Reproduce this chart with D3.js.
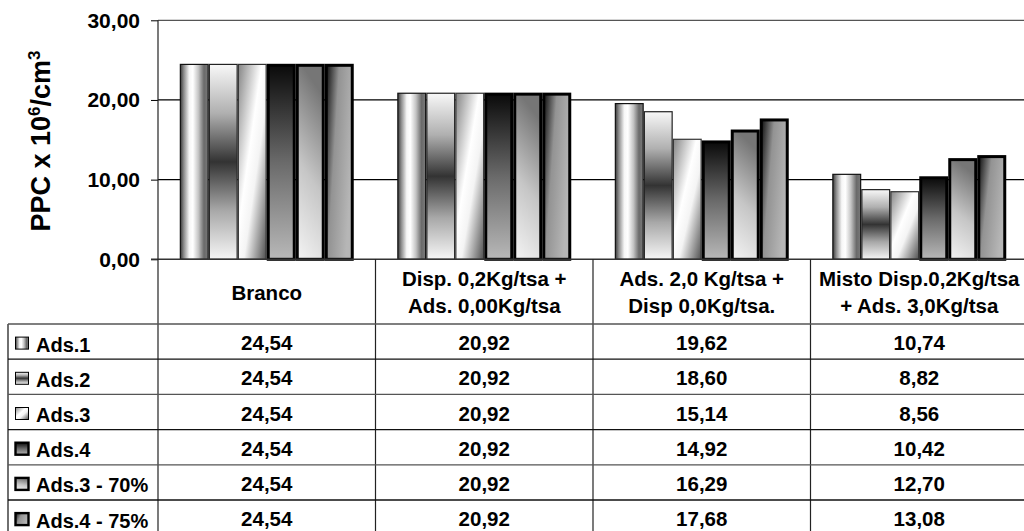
<!DOCTYPE html>
<html><head><meta charset="utf-8">
<script src="https://cdn.jsdelivr.net/npm/d3@7"></script>
<style>
html,body{margin:0;padding:0;background:#fff;overflow:hidden}
text{font-family:Arial,"Liberation Sans",sans-serif;font-weight:bold;fill:#000}
</style></head>
<body>
<svg id="chart" width="1024" height="531"></svg>
<script>
// ---- data ----
const categories = [["Branco"], ["Disp. 0,2Kg/tsa +", "Ads. 0,00Kg/tsa"], ["Ads. 2,0 Kg/tsa +", "Disp 0,0Kg/tsa."], ["Misto Disp.0,2Kg/tsa", "+ Ads. 3,0Kg/tsa"]];
const seriesNames = ["Ads.1", "Ads.2", "Ads.3", "Ads.4", "Ads.3 - 70%", "Ads.4 - 75%"];
const ads1 = [24.54, 20.92, 19.62, 10.74];
const ads2 = [24.54, 20.92, 18.60, 8.82];
const ads3 = [24.54, 20.92, 15.14, 8.56];
const ads4 = [24.54, 20.92, 14.92, 10.42];
const ads3_70 = [24.54, 20.92, 16.29, 12.70];
const ads4_75 = [24.54, 20.92, 17.68, 13.08];
const yTicks = [0, 10, 20, 30];
const yTitle = "PPC x 10";

const seriesValues = [ads1, ads2, ads3, ads4, ads3_70, ads4_75];

// ---- layout ----
const svg = d3.select("#chart");
const W = 1024, H = 531;
const plotLeft = 158, plotRight = 1028, plotTop = 20.3, plotBottom = 259.3;
const tableLeft = 8, headerBottom = 324, rowH = 35.2;

const locale = d3.formatLocale({decimal: ",", thousands: ".", grouping: [3], currency: ["", ""]});
const fmt = locale.format(".2f");

const x0 = d3.scaleBand().domain(d3.range(categories.length)).range([plotLeft, plotRight]).padding(0);
const bw = x0.bandwidth();
const x1 = d3.scaleBand().domain(d3.range(seriesNames.length)).range([bw * 0.1, bw * 0.9]).padding(0);
const y = d3.scaleLinear().domain([0, 30]).range([plotBottom, plotTop]);
const rowY = d3.scaleBand().domain(d3.range(seriesNames.length)).range([headerBottom, headerBottom + rowH * seriesNames.length]);

// ---- gradients ----
const defs = svg.append("defs");
function grad(id, x1_, y1_, x2_, y2_, stops) {
  const g = defs.append("linearGradient").attr("id", id)
    .attr("x1", x1_).attr("y1", y1_).attr("x2", x2_).attr("y2", y2_);
  stops.forEach(s => g.append("stop").attr("offset", s[0]).attr("stop-color", s[1]));
}
grad("g0", 0, 0, 1, 0, [[0, "#3a3a3a"], [0.12, "#8a8a8a"], [0.32, "#f6f6f6"], [0.45, "#ffffff"], [0.65, "#c4c4c4"], [0.85, "#6a6a6a"], [1, "#7a7a7a"]]);
grad("g1", 0, 0, 0, 1, [[0, "#f8f8f8"], [0.25, "#b0b0b0"], [0.5, "#333333"], [0.75, "#a8a8a8"], [1, "#f6f6f6"]]);
grad("g2", 0, 0, 1, 1, [[0, "#858585"], [0.42, "#ffffff"], [0.6, "#f4f4f4"], [1, "#505050"]]);
grad("g3", 0, 0, 0, 1, [[0, "#0a0a0a"], [0.5, "#6a6a6a"], [1, "#b8b8b8"]]);
grad("g4", 0.2, 0, 0, 1, [[0, "#767676"], [0.5, "#c6c6c6"], [1, "#f4f4f4"]]);
grad("g5", 0, 0, 1, 0.45, [[0, "#0e0e0e"], [0.42, "#939393"], [1, "#b6b6b6"]]);
const strokeW = [1.2, 1.2, 1.2, 3, 3, 3];
const strokeC = ["#111", "#222", "#333", "#000", "#000", "#000"];

// ---- gridlines & axis ----
const grid = svg.append("g");
grid.selectAll("line.grid").data(yTicks.filter(d => d > 0)).join("line")
  .attr("x1", plotLeft).attr("x2", W)
  .attr("y1", d => y(d)).attr("y2", d => y(d))
  .attr("stroke", d => d === 30 ? "#555" : "#000").attr("stroke-width", 1.2);

const yAxis = d3.axisLeft(y).tickValues(yTicks).tickSize(7).tickPadding(11).tickFormat(fmt);
const ag = svg.append("g").attr("transform", `translate(${plotLeft},0)`).call(yAxis);
ag.select(".domain").remove();
ag.selectAll(".tick line").attr("stroke", "#000").attr("stroke-width", 1);
ag.selectAll(".tick text").style("font-size", "21px").style("font-family", "Arial, 'Liberation Sans', sans-serif").style("font-weight", "bold").attr("fill", "#000");

// y axis title
const tt = svg.append("text").attr("transform", `translate(50,141) rotate(-90)`)
  .attr("text-anchor", "middle").style("font-size", "27px");
tt.append("tspan").text(yTitle);
tt.append("tspan").text("6").attr("dy", -10).style("font-size", "17px");
tt.append("tspan").text("/cm").attr("dy", 10);
tt.append("tspan").text("3").attr("dy", -10).style("font-size", "17px");

// ---- bars ----
const groups = svg.append("g").selectAll("g").data(categories).join("g")
  .attr("transform", (d, i) => `translate(${x0(i)},0)`);
groups.each(function (c, ci) {
  d3.select(this).selectAll("rect").data(seriesValues.map((s, si) => ({si, v: s[ci]}))).join("rect")
    .attr("x", d => x1(d.si) + strokeW[d.si] / 2)
    .attr("width", d => x1.bandwidth() - strokeW[d.si])
    .attr("y", d => y(d.v) + strokeW[d.si] / 2)
    .attr("height", d => y(0) - y(d.v) - strokeW[d.si] / 2)
    .attr("fill", d => `url(#g${d.si})`)
    .attr("stroke", d => strokeC[d.si]).attr("stroke-width", d => strokeW[d.si]);
});

// zero line
svg.append("line").attr("x1", plotLeft - 7).attr("x2", W).attr("y1", y(0)).attr("y2", y(0))
  .attr("stroke", "#333").attr("stroke-width", 1.6);
// y axis line (extends through table)
svg.append("line").attr("x1", plotLeft).attr("x2", plotLeft).attr("y1", plotTop).attr("y2", H)
  .attr("stroke", "#222").attr("stroke-width", 1.2);

// ---- table ----
const tbl = svg.append("g");
tbl.selectAll("line.col").data(d3.range(1, categories.length)).join("line")
  .attr("x1", i => x0(i)).attr("x2", i => x0(i)).attr("y1", y(0)).attr("y2", H)
  .attr("stroke", "#222").attr("stroke-width", 1.2);
tbl.append("line").attr("x1", tableLeft).attr("x2", tableLeft).attr("y1", headerBottom).attr("y2", H)
  .attr("stroke", "#333").attr("stroke-width", 1.4);
tbl.selectAll("line.row").data(d3.range(seriesNames.length)).join("line")
  .attr("x1", tableLeft).attr("x2", W).attr("y1", i => rowY(i)).attr("y2", i => rowY(i))
  .attr("stroke", (d, i) => i % 2 ? "#111" : "#555").attr("stroke-width", 1.3);

// headers
categories.forEach((lines, ci) => {
  const cx = x0(ci) + bw / 2;
  const cy = (y(0) + headerBottom) / 2 + 0.5;
  const lh = 27;
  lines.forEach((ln, li) => {
    tbl.append("text").attr("x", cx).attr("y", cy + (li - (lines.length - 1) / 2) * lh)
      .attr("text-anchor", "middle").attr("dominant-baseline", "central")
      .style("font-size", "20.5px").text(ln);
  });
});

// legend column + values
seriesNames.forEach((name, si) => {
  const cy = rowY(si) + rowY.bandwidth() / 2;
  const sw = si >= 3 ? 2.4 : 1;
  tbl.append("rect").attr("x", 15.5).attr("y", cy - 4.5).attr("width", 13).attr("height", 12)
    .attr("fill", `url(#g${si})`).attr("stroke", "#000").attr("stroke-width", sw);
  tbl.append("text").attr("x", 36).attr("y", cy + 3).attr("dominant-baseline", "central")
    .style("font-size", "20px").text(name);
  seriesValues[si].forEach((v, ci) => {
    tbl.append("text").attr("x", x0(ci) + bw / 2).attr("y", cy + 1)
      .attr("text-anchor", "middle").attr("dominant-baseline", "central")
      .style("font-size", "20.5px").text(fmt(v));
  });
});
</script>
</body></html>
